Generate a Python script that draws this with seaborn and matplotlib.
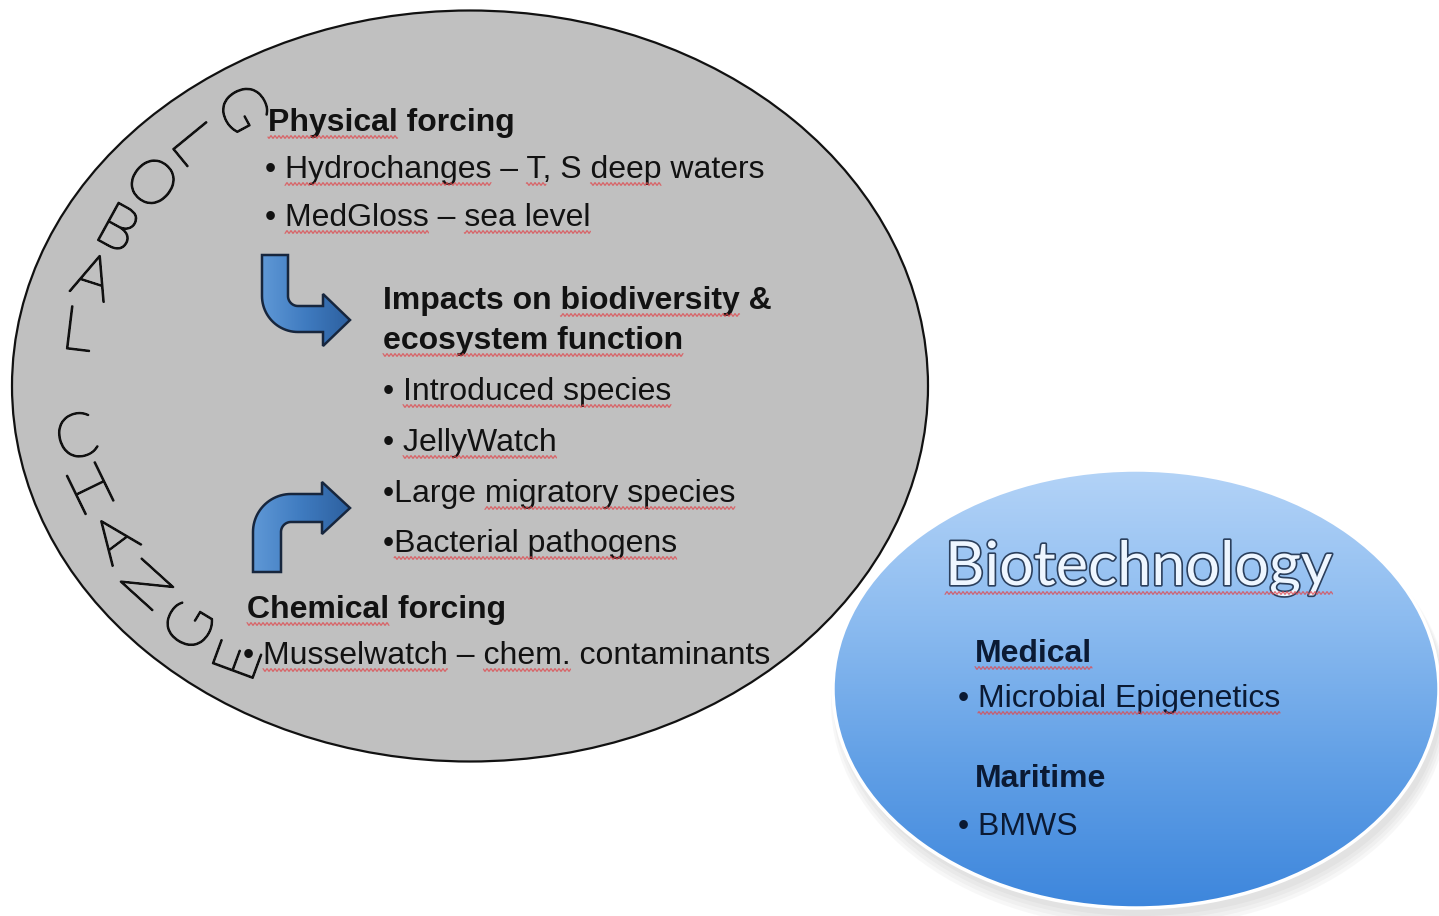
import numpy as np
import matplotlib
matplotlib.use("Agg")
import matplotlib.pyplot as plt
import seaborn as sns
from matplotlib.patches import Ellipse, PathPatch
from matplotlib.path import Path
from matplotlib.font_manager import FontProperties
import matplotlib.patheffects as pe

# ---- content of the slide ----
arc_title = "GLOBAL CHANGE"
physical_lines = ["Physical forcing",
                  "• Hydrochanges – T, S deep waters",
                  "• MedGloss – sea level"]
impact_lines = ["Impacts on biodiversity &",
                "ecosystem function",
                "• Introduced species",
                "• JellyWatch",
                "•Large migratory species",
                "•Bacterial pathogens"]
chemical_lines = ["Chemical forcing",
                  "• Musselwatch – chem. contaminants"]
biotech_title = "Biotechnology"
biotech_lines = ["Medical", "• Microbial Epigenetics", "Maritime", "• BMWS"]
# words the spell checker underlined in red
spell_flags = ["Physical", "Hydrochanges", "T", "deep", "MedGloss", "sea level",
               "biodiversity", "ecosystem function", "Introduced species",
               "JellyWatch", "migratory species", "Bacterial pathogens",
               "Chemical", "Musselwatch", "chem.", "Biotechnology", "Medical",
               "Microbial Epigenetics"]

sns.set_theme(style="white")
plt.rcParams['font.family'] = ['Liberation Sans', 'DejaVu Sans']

W, H = 1439, 916
fig = plt.figure(figsize=(W / 100, H / 100), dpi=100)
ax = fig.add_axes([0, 0, 1, 1])
ax.set_xlim(0, W)
ax.set_ylim(H, 0)
ax.axis("off")
renderer = fig.canvas.get_renderer()

INK = "#121212"
NAVY = "#0b1a33"


def text_w(s, fp):
    return renderer.get_text_width_height_descent(s, fp, ismath=False)[0]


def squiggle(x0, x1, y, z=6):
    xs = np.arange(x0, x1, 0.5)
    ax.plot(xs, y + 1.3 * np.sin(xs * np.pi / 2.0), color="#e0474c", lw=0.9, alpha=0.75, zorder=z)


def put(txt, x, y, bold=False, size=23, color=INK, z=5):
    fp = FontProperties(family=['Liberation Sans', 'DejaVu Sans'],
                        weight="bold" if bold else "normal", size=size)
    ax.text(x, y, txt, fontproperties=fp, color=color, ha="left", va="baseline", zorder=z)
    for w in spell_flags:
        if w in txt:
            end = txt.index(w) + len(w)
            right = x + text_w(txt[:end], fp)
            squiggle(right - text_w(w, fp), right, y + 6, z + 1)


def grad_fill(patch, extent, colors, vertical=True, n=256):
    cmap = sns.blend_palette(colors, as_cmap=True)
    g = np.linspace(0, 1, n)
    arr = g[:, None] if vertical else g[None, :]
    im = ax.imshow(arr, cmap=cmap, extent=extent, origin="upper", aspect="auto",
                   zorder=patch.get_zorder() - 0.1, interpolation="bilinear")
    im.set_clip_path(patch)


def arc(cx, cy, r, a0, a1, n=24):
    t = np.radians(np.linspace(a0, a1, n))
    return np.column_stack([cx + r * np.cos(t), cy + r * np.sin(t)])


# ---- grey "global change" ellipse ----
gcx, gcy = 470, 386
ax.add_patch(Ellipse((gcx, gcy), 916, 751, fc="#c0c0c0", ec="#111111", lw=1.6, zorder=1))

# letters along the left rim, thin black strokes
for i, ch in enumerate(arc_title):
    if ch == " ":
        continue
    phi = np.radians(-54.7 + 9.125 * i)
    lx = gcx - 398 * np.cos(phi)
    ly = gcy + 338 * np.sin(phi)
    ax.text(lx, ly, ch, rotation=1.2 * np.degrees(phi) + 4, rotation_mode="anchor",
            ha="center", va="center", fontsize=44, family="Lato", fontweight="light",
            color="#111111", zorder=4,
            path_effects=[pe.withStroke(linewidth=1.3, foreground="#111111")])

# ---- curved arrows ----
arrow_down = np.vstack([
    [[262, 255], [288, 255], [288, 296]],
    arc(298, 296, 10, 180, 90),
    [[323, 306], [323, 294], [350, 320], [323, 346], [323, 332]],
    arc(298, 296, 36, 90, 180),
    [[262, 255]],
])
arrow_up = np.vstack([
    [[253, 572], [281, 572], [281, 532]],
    arc(291, 532, 10, 180, 270),
    [[322, 522], [322, 534], [350, 508], [322, 482], [322, 494]],
    arc(291, 532, 38, 270, 180),
    [[253, 572]],
])
for pts in (arrow_down, arrow_up):
    p = PathPatch(Path(pts, closed=True), fc="none", ec="#17263d", lw=1.8, zorder=3)
    ax.add_patch(p)
    x0, y0 = pts.min(axis=0)
    x1, y1 = pts.max(axis=0)
    grad_fill(p, (x0, x1, y1, y0), ["#5f98d6", "#3f7bc0", "#2d609f"], vertical=False)

# ---- gray text ----
for txt, x, y in zip(physical_lines, [268, 265, 265], [131, 178, 226]):
    put(txt, x, y, bold=txt == physical_lines[0])
for k, (txt, y) in enumerate(zip(impact_lines, [309, 349, 400, 451, 502, 552])):
    put(txt, 383, y, bold=k < 2)
put(chemical_lines[0], 247, 618, bold=True)
put(chemical_lines[1], 243, 664)

# ---- blue biotechnology ellipse ----
bcx, bcy, bw, bh = 1136, 689, 606, 438
for k in range(4):
    ax.add_patch(Ellipse((bcx + 4, bcy + 8 + 2 * k), bw + 4 * k, bh + 4 * k,
                         fc="#808080", ec="none", alpha=0.06, zorder=6))
blue = Ellipse((bcx, bcy), bw, bh, fc="none", ec="white", lw=2.5, zorder=7)
ax.add_patch(blue)
grad_fill(blue, (bcx - bw / 2, bcx + bw / 2, bcy + bh / 2, bcy - bh / 2),
          ["#b3d3f7", "#8dbcf0", "#62a0e6", "#3d86dc"])

tfp = FontProperties(family=["Lato", "DejaVu Sans"], size=44)
ax.text(945, 585, biotech_title, fontproperties=tfp, color="#eef6ff", ha="left",
        va="baseline", zorder=9,
        path_effects=[pe.withStroke(linewidth=2.4, foreground="#2b3f5c")])
squiggle(945, 945 + text_w(biotech_title, tfp), 593, 10)

for txt, x, y in zip(biotech_lines, [975, 958, 975, 958], [662, 707, 787, 835]):
    put(txt, x, y, bold=not txt.startswith("•"), color=NAVY, z=9)

fig.savefig("out.png", dpi=100)
